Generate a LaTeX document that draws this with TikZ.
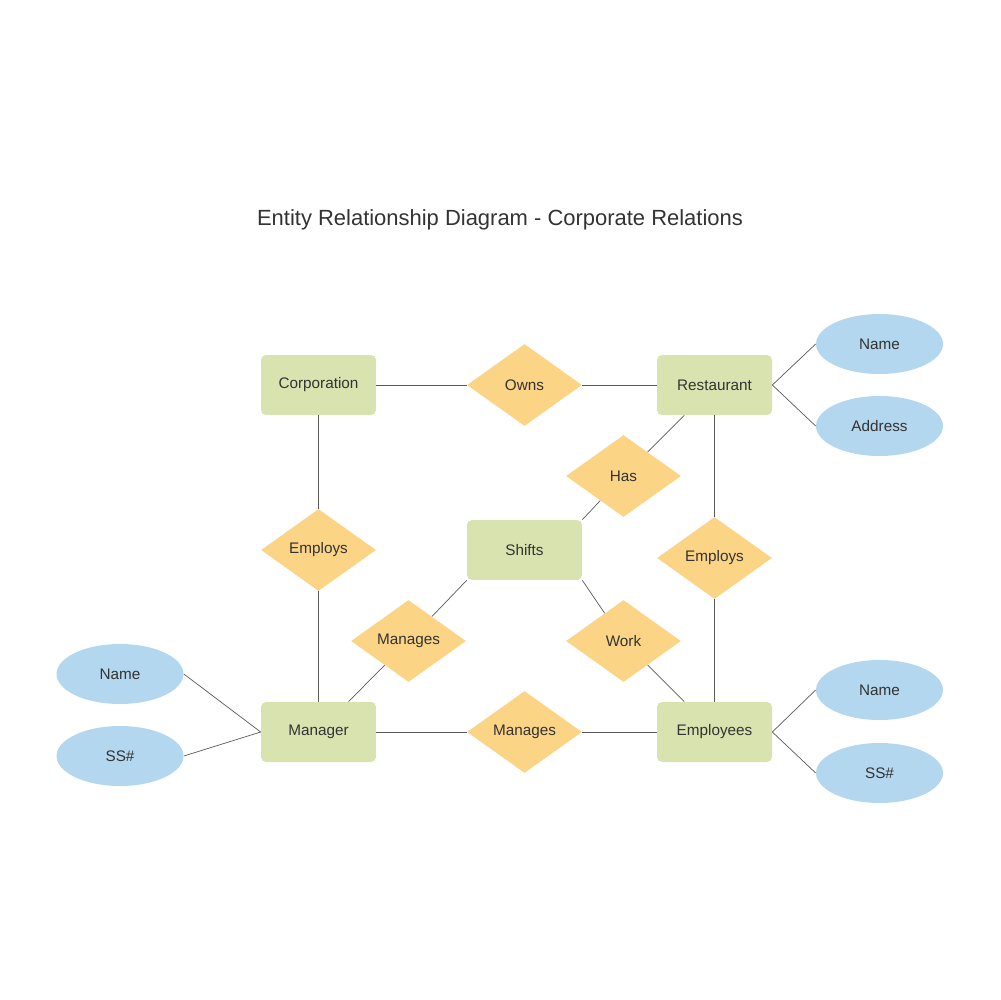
\documentclass[tikz,border=0pt]{standalone}
\usepackage{fontspec}
\setmainfont{Liberation Sans}
\usetikzlibrary{shapes.geometric}
\definecolor{entgreen}{RGB}{217,227,176}
\definecolor{relorange}{RGB}{251,212,134}
\definecolor{attblue}{RGB}{179,215,238}
\definecolor{linegray}{RGB}{90,90,90}
\definecolor{textgray}{RGB}{51,51,51}
\begin{document}
\begin{tikzpicture}
[x=0.02cm,y=-0.02cm,every node/.style={text=textgray,font=\fontsize{8.7}{10}\selectfont,inner sep=0pt},entity/.style={rectangle,rounded corners=2.8pt,fill=entgreen,minimum width=2.3cm,minimum height=1.2cm},relation/.style={diamond,fill=relorange,minimum width=2.3cm,minimum height=1.64cm},attribute/.style={ellipse,fill=attblue,minimum width=2.54cm,minimum height=1.2cm},link/.style={draw=linegray,line width=0.4pt},]
\useasboundingbox (0,0) rectangle (1000,1000);
\node(title) at (500,220) {\fontsize{12.5}{14}\selectfont Entity Relationship Diagram - Corporate Relations};
% entities
\node[entity](corporation) at (318.5,385) {Corporation};
\node[entity](restaurant) at (714.5,385) {Restaurant};
\node[entity](shifts) at (524.5,550) {Shifts};
\node[entity](manager) at (318.5,732) {Manager};
\node[entity](employees) at (714.5,732) {Employees};
% relations
\node[relation](owns) at (524.5,385) {Owns};
\node[relation](has) at (623.5,476) {Has};
\node[relation](employsL) at (318.5,550) {Employs};
\node[relation](employsR) at (714.5,558) {Employs};
\node[relation](managesL) at (408.5,641) {Manages};
\node[relation](work) at (623.5,641) {Work};
\node[relation](managesB) at (524.5,732) {Manages};
% attributes
\node[attribute](restName) at (879.5,344) {Name};
\node[attribute](restAddress) at (879.5,426) {Address};
\node[attribute](mgrName) at (120,674) {Name};
\node[attribute](mgrSS) at (120,756) {SS\#};
\node[attribute](empName) at (879.5,690) {Name};
\node[attribute](empSS) at (879.5,773) {SS\#};
% connectors
\draw[link] (corporation) -- (owns) (owns) -- (restaurant);
\draw[link] (corporation) -- (employsL) (employsL) -- (manager);
\draw[link] (restaurant) -- (employsR) (employsR) -- (employees);
\draw[link] (manager) -- (managesB) (managesB) -- (employees);
\draw[link] (restaurant) -- (has) (has) -- (shifts.north east);
\draw[link] (shifts.south east) -- (work) (work) -- (employees);
\draw[link] (shifts.south west) -- (managesL) (managesL) -- (manager);
\draw[link] (restaurant.east) -- (restName.west);
\draw[link] (restaurant.east) -- (restAddress.west);
\draw[link] (mgrName.east) -- (manager.west);
\draw[link] (mgrSS.east) -- (manager.west);
\draw[link] (employees.east) -- (empName.west);
\draw[link] (employees.east) -- (empSS.west);
\end{tikzpicture}
\end{document}
